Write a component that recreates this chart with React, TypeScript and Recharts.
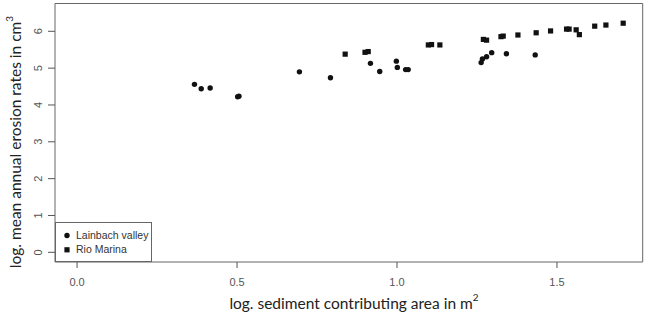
import { ScatterChart, Scatter, XAxis, YAxis, ReferenceArea, Legend } from 'recharts';

// log. sediment contributing area (x) vs log. mean annual erosion rate (y)
const lainbachX = [0.367, 0.388, 0.416, 0.502, 0.506, 0.695, 0.792, 0.917, 0.946, 0.998, 1.001, 1.027, 1.035, 1.263, 1.267, 1.28, 1.296, 1.342, 1.432];
const lainbachY = [4.56, 4.44, 4.46, 4.225, 4.24, 4.9, 4.74, 5.13, 4.91, 5.19, 5.02, 4.96, 4.96, 5.15, 5.25, 5.31, 5.42, 5.39, 5.36];

const rioX = [0.838, 0.9, 0.91, 1.098, 1.108, 1.134, 1.27, 1.28, 1.325, 1.332, 1.378, 1.435, 1.48, 1.53, 1.538, 1.56, 1.57, 1.618, 1.653, 1.707];
const rioY = [5.38, 5.43, 5.45, 5.63, 5.64, 5.63, 5.78, 5.76, 5.855, 5.87, 5.9, 5.96, 6.01, 6.06, 6.06, 6.04, 5.91, 6.14, 6.17, 6.22];

const xTicks = [0, 0.5, 1, 1.5];
const yTicks = [0, 1, 2, 3, 4, 5, 6];
const xTickLabels = ['0.0', '0.5', '1.0', '1.5'];

const X_DOMAIN: [number, number] = [-0.069, 1.768];
const Y_DOMAIN: [number, number] = [-0.263, 6.755];

const lainbach = lainbachX.map((x, i) => ({ x, y: lainbachY[i] }));
const rio = rioX.map((x, i) => ({ x, y: rioY[i] }));

const TICK_FONT = '"Liberation Sans", Arial, sans-serif';
const TITLE_FONT = 'Lato, "Open Sans", sans-serif';
const INK = '#111';

const Dot = (props: any) => <circle cx={props.cx} cy={props.cy} r={2.7} fill={INK} />;
const Square = (props: any) => (
  <rect x={props.cx - 2.6} y={props.cy - 2.6} width={5.2} height={5.2} fill={INK} />
);

const XTick = ({ x, y, payload }: any) => (
  <text x={x} y={y + 12} textAnchor="middle" dominantBaseline="central" fontSize={11} fill="#555" fontFamily={TICK_FONT}>
    {xTickLabels[xTicks.indexOf(payload.value)]}
  </text>
);

const YTick = ({ x, y, payload }: any) => (
  <text
    x={x - 8}
    y={y}
    transform={`rotate(-90, ${x - 8}, ${y})`}
    textAnchor="middle"
    dominantBaseline="central"
    fontSize={11}
    fill="#555"
    fontFamily={TICK_FONT}
  >
    {payload.value}
  </text>
);

const LegendBox = () => (
  <div
    style={{
      width: 97,
      height: 40,
      border: '1px solid #666',
      background: '#fff',
      position: 'relative',
      boxSizing: 'border-box',
      fontFamily: TICK_FONT,
      fontSize: 10.5,
      color: '#333',
    }}
  >
    <svg width={12} height={30} style={{ position: 'absolute', left: 5, top: 6 }}>
      <circle cx={6} cy={6.5} r={2.7} fill={INK} />
      <rect x={3.4} y={18.2} width={5.2} height={5.2} fill={INK} />
    </svg>
    <div style={{ position: 'absolute', left: 20, top: 5, lineHeight: '14px' }}>Lainbach valley</div>
    <div style={{ position: 'absolute', left: 20, top: 19, lineHeight: '14px' }}>Rio Marina</div>
  </div>
);

export default function App() {
  return (
    <div style={{ position: 'absolute', left: 0, top: 0, width: 651, height: 314, background: '#fff' }}>
      <ScatterChart width={651} height={314} margin={{ top: 3.5, right: 8.3, bottom: 0, left: 0 }}>
        <XAxis
          type="number"
          dataKey="x"
          domain={X_DOMAIN}
          ticks={xTicks}
          axisLine={false}
          tickLine={{ stroke: '#555' }}
          tickSize={6}
          height={52}
          tick={<XTick />}
          label={{
            content: () => (
              <text x={354} y={303} textAnchor="middle" dominantBaseline="central" fontSize={15.5} fill="#222" fontFamily={TITLE_FONT}>
                log. sediment contributing area in m
                <tspan dy={-6} fontSize={10}>2</tspan>
              </text>
            ),
          }}
        />
        <YAxis
          type="number"
          dataKey="y"
          domain={Y_DOMAIN}
          ticks={yTicks}
          axisLine={false}
          tickLine={{ stroke: '#555' }}
          tickSize={7}
          width={55}
          tick={<YTick />}
          label={{
            content: () => (
              <text
                x={15}
                y={142}
                transform="rotate(-90, 15, 142)"
                textAnchor="middle"
                dominantBaseline="central"
                fontSize={15.5}
                fill="#222"
                fontFamily={TITLE_FONT}
              >
                log. mean annual erosion rates in cm
                <tspan dy={-6} fontSize={10}>3</tspan>
              </text>
            ),
          }}
        />
        <ReferenceArea
          x1={X_DOMAIN[0]}
          x2={X_DOMAIN[1]}
          y1={Y_DOMAIN[0]}
          y2={Y_DOMAIN[1]}
          fill="none"
          stroke="#666"
          strokeWidth={1}
          ifOverflow="visible"
        />
        <Scatter name="Lainbach valley" data={lainbach} shape={<Dot />} isAnimationActive={false} />
        <Scatter name="Rio Marina" data={rio} shape={<Square />} isAnimationActive={false} />
        <Legend
          layout="horizontal"
          align="center"
          verticalAlign="middle"
          content={<LegendBox />}
          wrapperStyle={{ position: 'absolute', left: 55, top: 221.5, width: 97, height: 40 }}
        />
      </ScatterChart>
    </div>
  );
}
